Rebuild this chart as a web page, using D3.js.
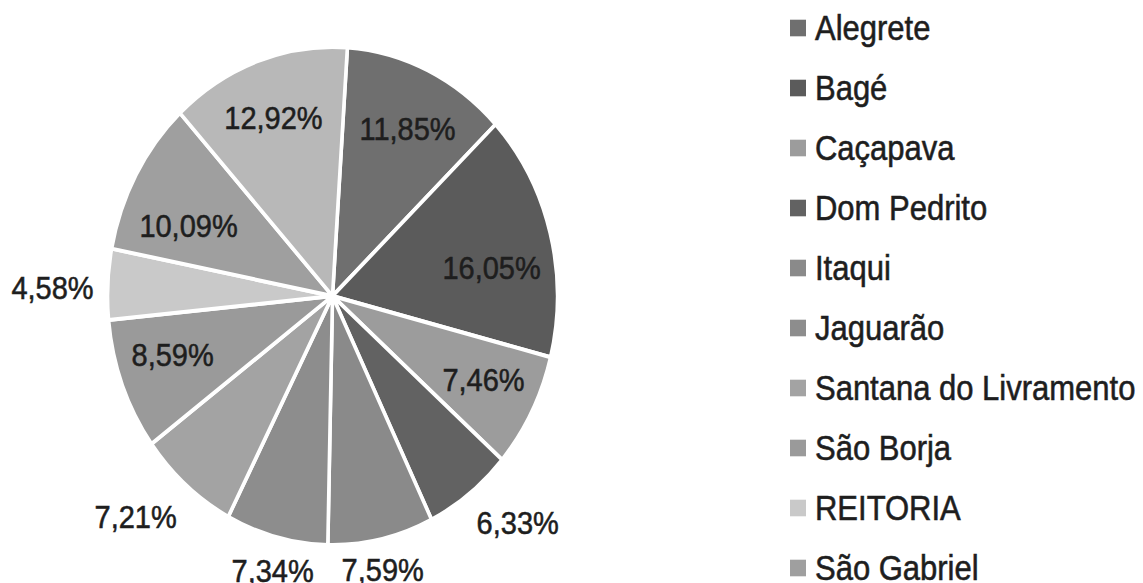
<!DOCTYPE html>
<html><head><meta charset="utf-8">
<script src="https://cdn.jsdelivr.net/npm/d3@7/dist/d3.min.js"></script>
<style>html,body{margin:0;padding:0;background:#fff;}svg{display:block;}</style>
</head><body>
<svg id="chart" width="1143" height="583"></svg>
<script>
const categories = ["Alegrete","Bagé","Caçapava","Dom Pedrito","Itaqui","Jaguarão","Santana do Livramento","São Borja","REITORIA","São Gabriel","Uruguaiana"];
const values = [11.85,16.05,7.46,6.33,7.59,7.34,7.21,8.59,4.58,10.09,12.92];
const colors = ["#6f6f6f","#5b5b5b","#9c9c9c","#626262","#8a8a8a","#8d8d8d","#a3a3a3","#9a9a9a","#c9c9c9","#9f9f9f","#b8b8b8"];

// label layout (angle nudge in degrees, radius factor), mimicking the spreadsheet's "best fit"
const labelLayout = {
  "Alegrete": [1.2, 0.752], "Bagé": [5.6, 0.716], "Caçapava": [-1.0, 0.751],
  "Dom Pedrito": [-4.6, 1.227], "Itaqui": [1.0, 1.122], "Jaguarão": [-0.8, 1.132],
  "Santana do Livramento": [4.1, 1.244], "São Borja": [2.8, 0.748], "REITORIA": [-1.1, 1.245],
  "São Gabriel": [-5.2, 0.70], "Uruguaiana": [-0.6, 0.765]
};

const W = 1143, H = 583, sy = 1.107;
const svg = d3.select("#chart");
const root = svg.append("g").attr("transform", `scale(1,${sy})`);

const cx = 332.5, cy = 267.4, r = 225;
const startDeg = 3.8;
const pie = d3.pie().sort(null).value(d => d.v)
  .startAngle(startDeg * Math.PI/180).endAngle((startDeg+360) * Math.PI/180);
const data = categories.map((c,i) => ({c, v: values[i], col: colors[i]}));
const arcs = pie(data);
const arc = d3.arc().innerRadius(0).outerRadius(r);
const fmt = v => v.toFixed(2).replace(".", ",") + "%";

const g = root.append("g").attr("transform", `translate(${cx},${cy})`);
g.selectAll("path").data(arcs).enter().append("path")
  .attr("d", arc).attr("fill", d => d.data.col)
  .attr("stroke", "#fff").attr("stroke-width", 3.6).attr("stroke-linejoin", "round");

g.selectAll("text").data(arcs).enter().append("text")
  .attr("transform", d => {
    const L = labelLayout[d.data.c];
    const a = (d.startAngle + d.endAngle)/2 + L[0]*Math.PI/180;
    const k = L[1];
    return `translate(${Math.sin(a)*r*k},${-Math.cos(a)*r*k})`;
  })
  .attr("text-anchor","middle").attr("dy","0.36em")
  .style("font-family","'Liberation Sans', Arial, sans-serif")
  .style("font-size","29px").attr("fill","#1e1e1e")
  .attr("stroke","#1e1e1e").attr("stroke-width",0.5)
  .text(d => fmt(d.data.v));

const lg = root.append("g").attr("transform", "translate(790,0)");
const ly = d3.scalePoint().domain(categories).range([25.3, 25.3 + 54.2*(categories.length-1)]);
const items = lg.selectAll("g").data(data).enter().append("g")
  .attr("transform", d => `translate(0,${ly(d.c)})`);
items.append("rect").attr("x",0).attr("y",-7.5).attr("width",16).attr("height",15).attr("fill", d => d.col);
items.append("text").attr("x",25).attr("dy","0.36em")
  .style("font-family","'Liberation Sans', Arial, sans-serif")
  .style("font-size","31px").attr("fill","#1e1e1e")
  .attr("stroke","#1e1e1e").attr("stroke-width",0.5)
  .text(d => d.c);
</script>
</body></html>
